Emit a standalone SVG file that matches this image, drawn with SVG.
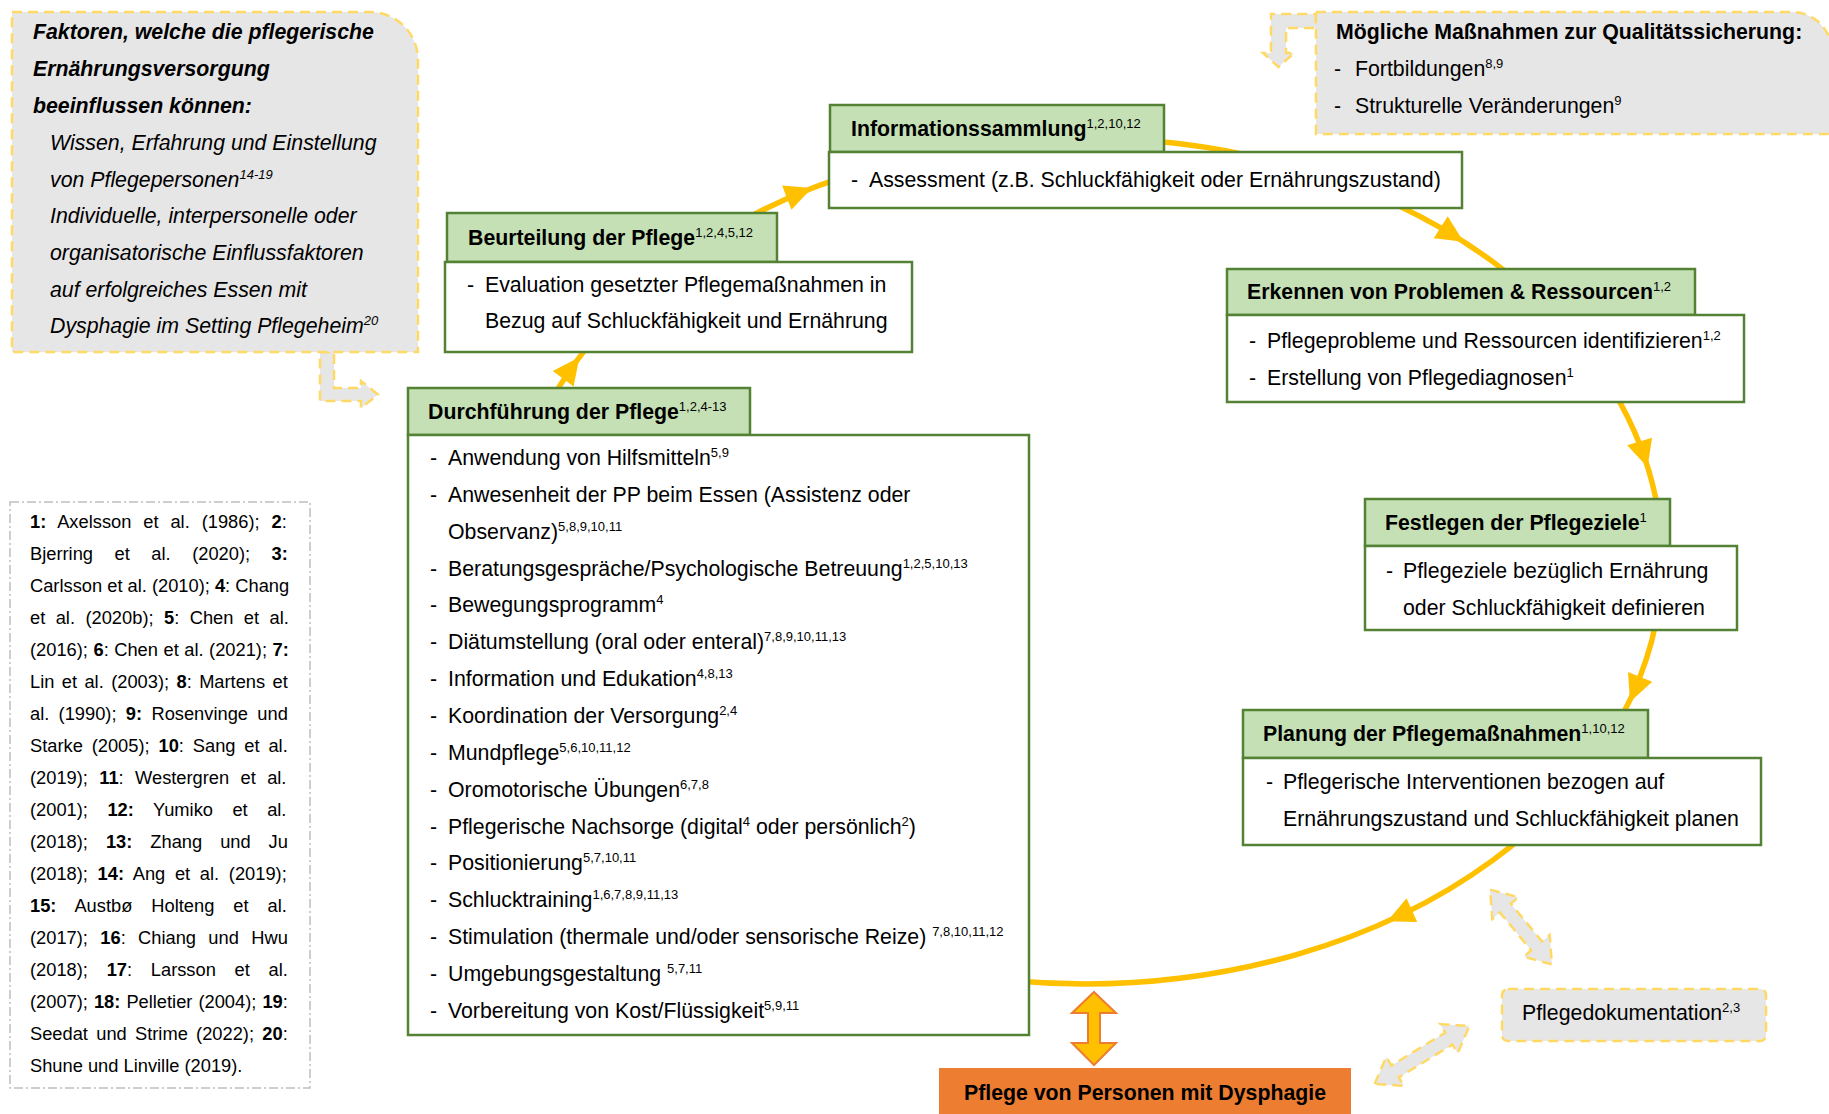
<svg xmlns="http://www.w3.org/2000/svg" width="1829" height="1114" viewBox="0 0 1829 1114">
<defs>
<style>
text{font-family:'Liberation Sans',Arial,Helvetica,sans-serif;font-size:21.3px;fill:#000}
.b{font-weight:bold}
.i{font-style:italic}
.s{font-size:13px;font-weight:normal}
.r{font-size:18.3px}
.hdr{fill:#c5e0b4;stroke:#548235;stroke-width:2.5}
.cnt{fill:#fff;stroke:#548235;stroke-width:2.5}
.grey{fill:#e7e6e6;stroke:#ffd966;stroke-width:2.5;stroke-dasharray:10 6}
.cyc{fill:none;stroke:#ffc000;stroke-width:5.5}
.ah{fill:#ffc000}
.refbox{fill:#fff;stroke:#bfbfbf;stroke-width:1.5;stroke-dasharray:9 3 2 3}
</style>
<path id="ah" d="M0,0 L-27,-13 L-27,13 Z"/>
</defs>
<rect width="1829" height="1114" fill="#fff"/>

<g id="connectors">
<ellipse class="cyc" cx="1085" cy="561" rx="577" ry="423"/>
<use href="#ah" class="ah" transform="translate(1463.5,241.8) rotate(32.5)"/>
<use href="#ah" class="ah" transform="translate(1647.6,467.3) rotate(72.8)"/>
<use href="#ah" class="ah" transform="translate(1630,702) rotate(112)"/>
<use href="#ah" class="ah" transform="translate(1387.3,921.3) rotate(155.7)"/>
<use href="#ah" class="ah" transform="translate(579.4,357.2) rotate(-53.1)"/>
<use href="#ah" class="ah" transform="translate(812,188) rotate(-21)"/>
<path class="grey" d="M320,352 L334,352 L334,388 L361,388 L361,381 L378,394.5 L361,408 L361,401 L320,401 Z"/>
<path class="grey" d="M1316,14 L1316,28 L1286,28 L1286,53 L1294,53 L1278.5,67 L1263,53 L1271,53 L1271,14 Z"/>
<path class="grey" transform="translate(1521,927) rotate(50.4)" d="M-48.5,0 L-24.5,-17 L-24.5,-7 L24.5,-7 L24.5,-17 L48.5,0 L24.5,17 L24.5,7 L-24.5,7 L-24.5,17 Z"/>
<path class="grey" transform="translate(1422,1055) rotate(-31.4)" d="M-55.5,0 L-31.5,-17 L-31.5,-7 L31.5,-7 L31.5,-17 L55.5,0 L31.5,17 L31.5,7 L-31.5,7 L-31.5,17 Z"/>
<path d="M1094,992 L1116,1013 L1100,1013 L1100,1043 L1116,1043 L1094,1065 L1072,1043 L1088,1043 L1088,1013 L1072,1013 Z" fill="#ffc000" stroke="#ed7d31" stroke-width="2"/>
</g>

<g id="einflussfaktoren">
<path class="grey" d="M12,12 H370 A48,48 0 0 1 418,60 V352 H12 Z"/>
<text class="b i" x="33" y="39">Faktoren, welche die pflegerische</text>
<text class="b i" x="33" y="76">Ernährungsversorgung</text>
<text class="b i" x="33" y="113">beeinflussen können:</text>
<text class="i" x="50" y="150">Wissen, Erfahrung und Einstellung</text>
<text class="i" x="50" y="187">von Pflegepersonen<tspan class="s" dy="-8">14-19</tspan></text>
<text class="i" x="50" y="223">Individuelle, interpersonelle oder</text>
<text class="i" x="50" y="260">organisatorische Einflussfaktoren</text>
<text class="i" x="50" y="297">auf erfolgreiches Essen mit</text>
<text class="i" x="50" y="333">Dysphagie im Setting Pflegeheim<tspan class="s" dy="-8">20</tspan></text>
</g>

<g id="qualitaetssicherung">
<path class="grey" d="M1316,12 H1792 A40,40 0 0 1 1832,52 V134 H1316 Z"/>
<text class="b" x="1336" y="39">Mögliche Maßnahmen zur Qualitätssicherung:</text>
<text x="1334" y="76">-</text><text x="1355" y="76">Fortbildungen<tspan class="s" dy="-8">8,9</tspan></text>
<text x="1334" y="113">-</text><text x="1355" y="113">Strukturelle Veränderungen<tspan class="s" dy="-8">9</tspan></text>
</g>

<g id="informationssammlung">
<rect class="hdr" x="830" y="105" width="334" height="47"/>
<rect class="cnt" x="829" y="152" width="633" height="56"/>
<text class="b" x="851" y="136">Informationssammlung<tspan class="s" dy="-8">1,2,10,12</tspan></text>
<text x="851" y="187">-</text><text x="869" y="187">Assessment (z.B. Schluckfähigkeit oder Ernährungszustand)</text>
</g>

<g id="beurteilung">
<rect class="hdr" x="447" y="213" width="330" height="49"/>
<rect class="cnt" x="445" y="262" width="467" height="90"/>
<text class="b" x="468" y="245">Beurteilung der Pflege<tspan class="s" dy="-8">1,2,4,5,12</tspan></text>
<text x="467" y="292">-</text><text x="485" y="292">Evaluation gesetzter Pflegemaßnahmen in</text>
<text x="485" y="328">Bezug auf Schluckfähigkeit und Ernährung</text>
</g>

<g id="erkennen">
<rect class="hdr" x="1227" y="269" width="468" height="46"/>
<rect class="cnt" x="1227" y="315" width="517" height="87"/>
<text class="b" x="1247" y="299">Erkennen von Problemen &amp; Ressourcen<tspan class="s" dy="-8">1,2</tspan></text>
<text x="1249" y="348">-</text><text x="1267" y="348">Pflegeprobleme und Ressourcen identifizieren<tspan class="s" dy="-8">1,2</tspan></text>
<text x="1249" y="385">-</text><text x="1267" y="385">Erstellung von Pflegediagnosen<tspan class="s" dy="-8">1</tspan></text>
</g>

<g id="festlegen">
<rect class="hdr" x="1365" y="499" width="305" height="47"/>
<rect class="cnt" x="1365" y="546" width="372" height="84"/>
<text class="b" x="1385" y="530">Festlegen der Pflegeziele<tspan class="s" dy="-8">1</tspan></text>
<text x="1386" y="578">-</text><text x="1403" y="578">Pflegeziele bezüglich Ernährung</text>
<text x="1403" y="615">oder Schluckfähigkeit definieren</text>
</g>

<g id="planung">
<rect class="hdr" x="1243" y="710" width="405" height="48"/>
<rect class="cnt" x="1243" y="758" width="518" height="87"/>
<text class="b" x="1263" y="741">Planung der Pflegemaßnahmen<tspan class="s" dy="-8">1,10,12</tspan></text>
<text x="1266" y="789">-</text><text x="1283" y="789">Pflegerische Interventionen bezogen auf</text>
<text x="1283" y="826">Ernährungszustand und Schluckfähigkeit planen</text>
</g>

<g id="durchfuehrung">
<rect class="hdr" x="408" y="388" width="342" height="47"/>
<rect class="cnt" x="408" y="435" width="621" height="600"/>
<text class="b" x="428" y="419">Durchführung der Pflege<tspan class="s" dy="-8">1,2,4-13</tspan></text>
<text x="430" y="465">-</text><text x="448" y="465">Anwendung von Hilfsmitteln<tspan class="s" dy="-8">5,9</tspan></text>
<text x="430" y="501.9">-</text><text x="448" y="501.9">Anwesenheit der PP beim Essen (Assistenz oder</text>
<text x="448" y="538.7">Observanz)<tspan class="s" dy="-8">5,8,9,10,11</tspan></text>
<text x="430" y="575.6">-</text><text x="448" y="575.6">Beratungsgespräche/Psychologische Betreuung<tspan class="s" dy="-8">1,2,5,10,13</tspan></text>
<text x="430" y="612.4">-</text><text x="448" y="612.4">Bewegungsprogramm<tspan class="s" dy="-8">4</tspan></text>
<text x="430" y="649.3">-</text><text x="448" y="649.3">Diätumstellung (oral oder enteral)<tspan class="s" dy="-8">7,8,9,10,11,13</tspan></text>
<text x="430" y="686.1">-</text><text x="448" y="686.1">Information und Edukation<tspan class="s" dy="-8">4,8,13</tspan></text>
<text x="430" y="723">-</text><text x="448" y="723">Koordination der Versorgung<tspan class="s" dy="-8">2,4</tspan></text>
<text x="430" y="759.8">-</text><text x="448" y="759.8">Mundpflege<tspan class="s" dy="-8">5,6,10,11,12</tspan></text>
<text x="430" y="796.7">-</text><text x="448" y="796.7">Oromotorische Übungen<tspan class="s" dy="-8">6,7,8</tspan></text>
<text x="430" y="833.5">-</text><text x="448" y="833.5">Pflegerische Nachsorge (digital<tspan class="s" dy="-8">4</tspan><tspan dy="8"> oder persönlich</tspan><tspan class="s" dy="-8">2</tspan><tspan dy="8">)</tspan></text>
<text x="430" y="870.4">-</text><text x="448" y="870.4">Positionierung<tspan class="s" dy="-8">5,7,10,11</tspan></text>
<text x="430" y="907.2">-</text><text x="448" y="907.2">Schlucktraining<tspan class="s" dy="-8">1,6,7,8,9,11,13</tspan></text>
<text x="430" y="944.1">-</text><text x="448" y="944.1">Stimulation (thermale und/oder sensorische Reize) <tspan class="s" dy="-8">7,8,10,11,12</tspan></text>
<text x="430" y="980.9">-</text><text x="448" y="980.9">Umgebungsgestaltung <tspan class="s" dy="-8">5,7,11</tspan></text>
<text x="430" y="1017.8">-</text><text x="448" y="1017.8">Vorbereitung von Kost/Flüssigkeit<tspan class="s" dy="-8">5,9,11</tspan></text>
</g>

<g id="pflegedokumentation">
<rect class="grey" x="1502" y="989" width="264" height="52" rx="6"/>
<text x="1522" y="1020">Pflegedokumentation<tspan class="s" dy="-8">2,3</tspan></text>
</g>

<g id="pflege-dysphagie">
<rect x="939" y="1068" width="412" height="50" fill="#ed7d31"/>
<text class="b" x="1145" y="1100" text-anchor="middle">Pflege von Personen mit Dysphagie</text>
</g>

<g id="literatur">
<rect class="refbox" x="10" y="502" width="300" height="586"/>
<text class="r" x="30" y="527.5" style="word-spacing:6.84px"><tspan class="b">1:</tspan> Axelsson et al. (1986); <tspan class="b">2</tspan>:</text>
<text class="r" x="30" y="559.5" style="word-spacing:16.45px">Bjerring et al. (2020); <tspan class="b">3:</tspan></text>
<text class="r" x="30" y="591.5">Carlsson et al. (2010); <tspan class="b">4</tspan>: Chang</text>
<text class="r" x="30" y="623.5" style="word-spacing:5.37px">et al. (2020b); <tspan class="b">5</tspan>: Chen et al.</text>
<text class="r" x="30" y="655.5" style="word-spacing:0.45px">(2016); <tspan class="b">6</tspan>: Chen et al. (2021); <tspan class="b">7:</tspan></text>
<text class="r" x="30" y="687.5" style="word-spacing:2.32px">Lin et al. (2003); <tspan class="b">8</tspan>: Martens et</text>
<text class="r" x="30" y="719.5" style="word-spacing:4.23px">al. (1990); <tspan class="b">9:</tspan> Rosenvinge und</text>
<text class="r" x="30" y="751.5" style="word-spacing:3.78px">Starke (2005); <tspan class="b">10</tspan>: Sang et al.</text>
<text class="r" x="30" y="783.5" style="word-spacing:6.27px">(2019); <tspan class="b">11</tspan>: Westergren et al.</text>
<text class="r" x="30" y="815.5" style="word-spacing:14.4px">(2001); <tspan class="b">12:</tspan> Yumiko et al.</text>
<text class="r" x="30" y="847.5" style="word-spacing:12.9px">(2018); <tspan class="b">13:</tspan> Zhang und Ju</text>
<text class="r" x="30" y="879.5" style="word-spacing:4.6px">(2018); <tspan class="b">14:</tspan> Ang et al. (2019);</text>
<text class="r" x="30" y="911.5" style="word-spacing:13.9px"><tspan class="b">15:</tspan> Austbø Holteng et al.</text>
<text class="r" x="30" y="943.5" style="word-spacing:7.28px">(2017); <tspan class="b">16</tspan>: Chiang und Hwu</text>
<text class="r" x="30" y="975.5" style="word-spacing:13.65px">(2018); <tspan class="b">17</tspan>: Larsson et al.</text>
<text class="r" x="30" y="1007.5" style="word-spacing:0.93px">(2007); <tspan class="b">18:</tspan> Pelletier (2004); <tspan class="b">19</tspan>:</text>
<text class="r" x="30" y="1039.5" style="word-spacing:3.2px">Seedat und Strime (2022); <tspan class="b">20</tspan>:</text>
<text class="r" x="30" y="1071.5">Shune und Linville (2019).</text>
</g>
</svg>
